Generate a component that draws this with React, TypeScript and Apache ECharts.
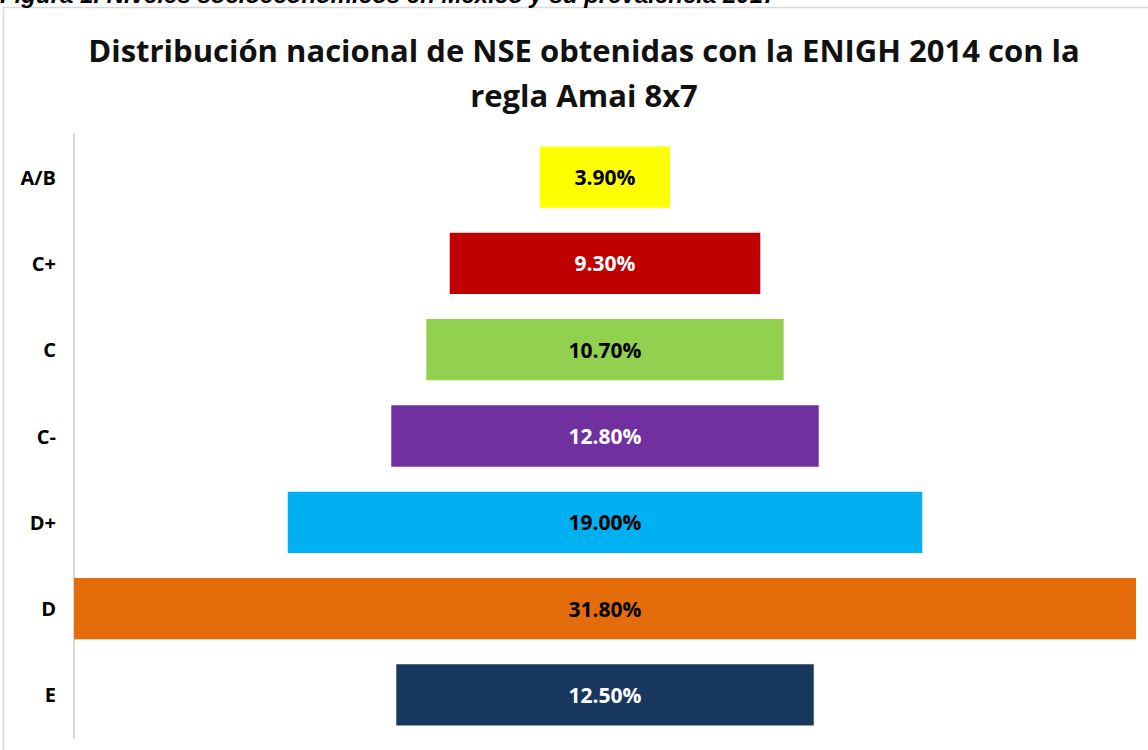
import React, { useEffect, useRef } from "react";
import * as echarts from "echarts";

const categories = ["A/B", "C+", "C", "C-", "D+", "D", "E"];
const values = [3.9, 9.3, 10.7, 12.8, 19.0, 31.8, 12.5];
const colors = ["#FFFF00", "#C00000", "#92D050", "#7030A0", "#00B0F0", "#E46C0A", "#17375E"];
const labelColors = ["#000000", "#FFFFFF", "#000000", "#FFFFFF", "#000000", "#000000", "#FFFFFF"];
const titleText = "Distribución nacional de NSE obtenidas con la ENIGH 2014 con la\nregla Amai 8x7";
const captionText = "Figura 1. Niveles socioeconómicos en México y su prevalencia 2017";

export default function App() {
  const ref = useRef<HTMLDivElement>(null);
  useEffect(() => {
    if (!ref.current) return;
    const chart = echarts.init(ref.current, null, { renderer: "svg" });
    const maxV = Math.max(...values);
    const offsets = values.map((v) => (maxV - v) / 2);
    chart.setOption({
      animation: false,
      backgroundColor: "#ffffff",
      title: {
        text: titleText,
        left: 579,
        top: 22,
        textAlign: "center",
        textStyle: {
          fontFamily: "Open Sans",
          fontWeight: "bold",
          fontSize: 31,
          lineHeight: 45,
          color: "#111111",
        },
      },
      graphic: [
        {
          type: "rect",
          shape: { x: 3.5, y: 7.5, width: 1300, height: 900 },
          style: { fill: "none", stroke: "#d9d9d9", lineWidth: 1.5 },
          silent: true,
        },
        {
          type: "text",
          x: 0,
          y: 6,
          style: {
            text: captionText,
            fontFamily: "Liberation Sans",
            fontStyle: "italic",
            fontWeight: "bold",
            fontSize: 24,
            fill: "#000000",
            textVerticalAlign: "bottom",
          },
          silent: true,
        },
      ],
      grid: { left: 74, right: 12, top: 134, bottom: 12, containLabel: false },
      xAxis: {
        type: "value",
        min: 0,
        max: maxV,
        show: false,
      },
      yAxis: {
        type: "category",
        data: categories,
        inverse: true,
        axisLine: { show: true, lineStyle: { color: "#d9d9d9", width: 2 } },
        axisTick: { show: false },
        axisLabel: {
          margin: 18,
          fontFamily: "Open Sans",
          fontWeight: "bold",
          fontSize: 20,
          color: "#000000",
        },
      },
      series: [
        {
          type: "bar",
          stack: "f",
          data: offsets,
          itemStyle: { color: "transparent" },
          barCategoryGap: "29%",
          silent: true,
        },
        {
          type: "bar",
          stack: "f",
          barCategoryGap: "29%",
          data: values.map((v, i) => ({
            value: v,
            itemStyle: { color: colors[i] },
            label: { color: labelColors[i] },
          })),
          label: {
            show: true,
            position: "inside",
            fontFamily: "Open Sans",
            fontWeight: "bold",
            fontSize: 21,
            formatter: (p: any) => p.value.toFixed(2) + "%",
          },
        },
      ],
    });
    return () => chart.dispose();
  }, []);
  return (
    <div
      ref={ref}
      style={{ position: "fixed", left: 0, top: 0, width: 1148, height: 750 }}
    />
  );
}
